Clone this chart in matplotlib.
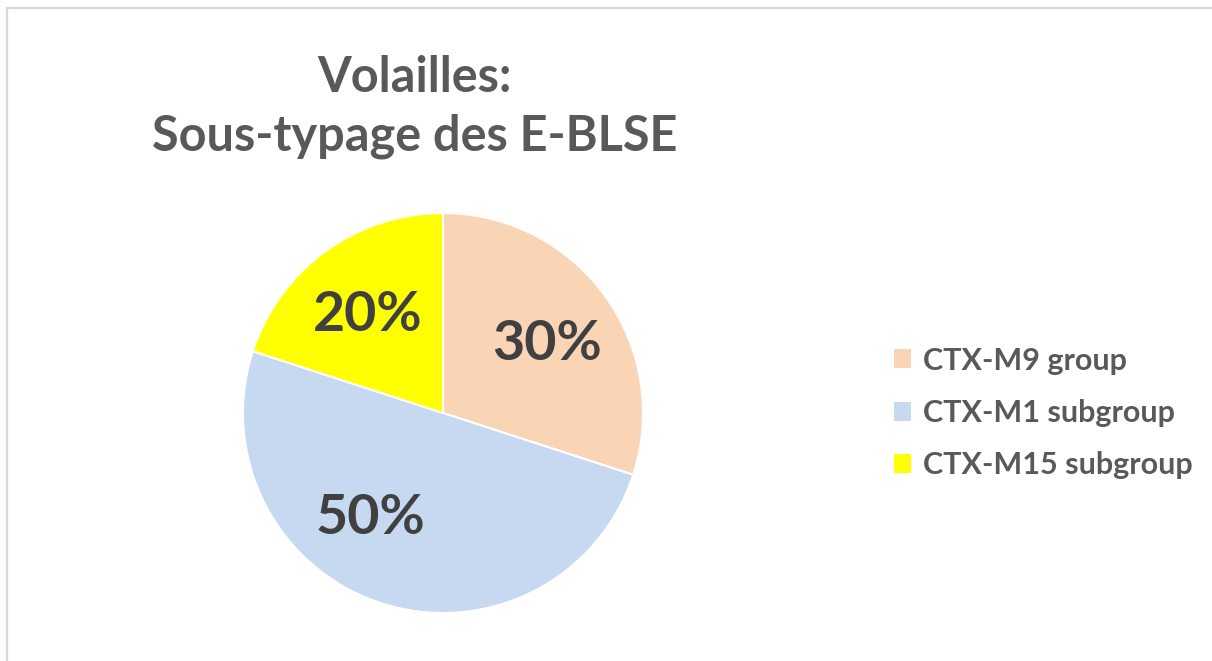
import matplotlib
matplotlib.use("Agg")
import matplotlib.pyplot as plt
from matplotlib.patches import Rectangle

# Data
categories = ["CTX-M9 group", "CTX-M1 subgroup", "CTX-M15 subgroup"]
shares = [30, 50, 20]
colors = ["#FAD5B5", "#C6D9F1", "#FFFF00"]
title = "Volailles:\nSous-typage des E-BLSE"

plt.rcParams['font.family'] = ['Lato', 'DejaVu Sans']

W, H = 1212, 661
fig = plt.figure(figsize=(W / 100, H / 100), dpi=100)
fig.patch.set_facecolor("white")

# light grey frame (cropped at right/bottom)
fig.patches.append(Rectangle((7 / W, -0.1), 1.2, (H - 7) / H + 0.1 - 0.0015,
                             transform=fig.transFigure, fill=False,
                             edgecolor="#D9D9D9", linewidth=1.6))

# pie: centre (443, 413), radius 200 px
cx, cy, r = 443, 413, 200
ax = fig.add_axes([(cx - r) / W, (H - cy - r) / H, 2 * r / W, 2 * r / H])
wedges, texts, autotexts = ax.pie(
    shares, colors=colors, startangle=90, counterclock=False,
    autopct="%d%%", pctdistance=0.64, radius=1,
    wedgeprops=dict(edgecolor="white", linewidth=1.5),
    textprops=dict(fontsize=40, fontweight="bold", color="#404040"))
ax.set_xlim(-1, 1)
ax.set_ylim(-1, 1)
ax.set_aspect("equal")

# Excel "best fit" pushes the 50% label to the left
autotexts[1].set_position((-0.365, -0.495))
# labels sit a little lower in the reference
for t in autotexts:
    x, y = t.get_position()
    t.set_position((x, y - 0.03))

fig.text(415 / W, 1 - 107 / H, title, ha="center", va="center",
         fontsize=35, fontweight="bold", color="#595959", linespacing=1.35)

leg = fig.legend(wedges, categories, loc="center left",
                 bbox_to_anchor=(866 / W, 1 - 413 / H), frameon=False,
                 fontsize=22, handlelength=0.56, handleheight=0.56,
                 handletextpad=0.39, labelspacing=0.8)
for t in leg.get_texts():
    t.set_fontweight("bold")
    t.set_color("#595959")
for h in leg.legend_handles:
    h.set_edgecolor("none")

fig.savefig("out.png", dpi=100, facecolor="white")
